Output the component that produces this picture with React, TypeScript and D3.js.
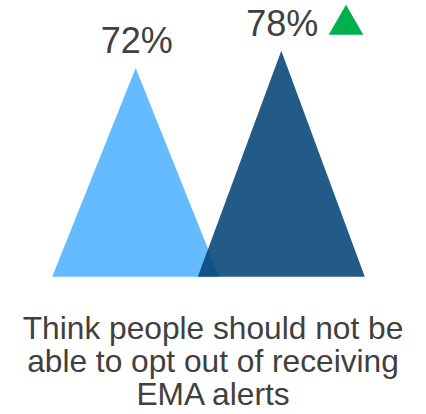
import React from "react";
import * as d3 from "d3";

const categories = ["Previous", "Current"];
const values = [72, 78];
const labels = ["72%", "78%"];
const caption = ["Think people should not be", "able to opt out of receiving", "EMA alerts"];
const colors = ["#64BBFF", "#044478"];
const opacities = [1, 0.88];
const changeUp = [false, true];

const W = 426;
const H = 414;

export default function App() {
  const x = d3.scalePoint<string>().domain(categories).range([135.7, 281.3]);
  const y = d3.scaleLinear().domain([0, 100]).range([276.7, -13.1]);
  const halfW = 83.5;
  const font = "'Liberation Sans', Arial, sans-serif";

  return (
    <svg width={W} height={H} style={{ position: "absolute", left: 0, top: 0 }}>
      {categories.map((c, i) => {
        const cx = x(c)!;
        const path = d3.path();
        path.moveTo(cx - halfW, y(0));
        path.lineTo(cx, y(values[i]));
        path.lineTo(cx + halfW, y(0));
        path.closePath();
        return <path key={c} d={path.toString()} fill={colors[i]} fillOpacity={opacities[i]} />;
      })}
      {categories.map((c, i) => {
        const cx = x(c)!;
        const by = y(values[i]) - 15;
        return (
          <g key={"l" + c}>
            <text
              x={cx + 1}
              y={by}
              textAnchor="middle"
              fontFamily={font}
              fontSize={36}
              fill="#404040"
            >
              {labels[i]}
            </text>
            {changeUp[i] && (
              <path
                d={`M${cx + 47.4},${by - 1} L${cx + 82},${by - 1} L${cx + 64.7},${by - 30.8} Z`}
                fill="#00B050"
              />
            )}
          </g>
        );
      })}
      {caption.map((line, i) => (
        <text
          key={i}
          x={213}
          y={339 + i * 33}
          textAnchor="middle"
          fontFamily={font}
          fontSize={31.7}
          fill="#404040"
        >
          {line}
        </text>
      ))}
    </svg>
  );
}
